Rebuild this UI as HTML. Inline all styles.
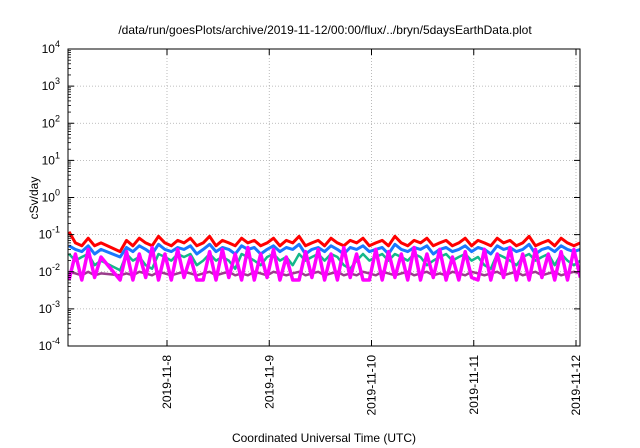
<!DOCTYPE html>
<html><head><meta charset="utf-8"><style>
html,body{margin:0;padding:0;background:#fff;}
svg{display:block;font-family:"Liberation Sans",sans-serif;}
</style></head><body>
<svg id="chart" width="640" height="448" viewBox="0 0 640 448">
<text x="325" y="34" font-size="12" text-anchor="middle">/data/run/goesPlots/archive/2019-11-12/00:00/flux/../bryn/5daysEarthData.plot</text>
<text transform="translate(38,198) rotate(-90)" font-size="12" text-anchor="middle">cSv/day</text>
<text x="324" y="442" font-size="12" text-anchor="middle">Coordinated Universal Time (UTC)</text>
<g id="grid"></g>
<defs><clipPath id="clip"><rect x="68" y="49" width="512" height="297"/></clipPath></defs>
<g id="series" clip-path="url(#clip)"></g>
<g id="axes"></g>
<rect x="68" y="49" width="512" height="297" fill="none" stroke="#000" stroke-width="1"/>
</svg>
<script>
const yExponents=[-4,-3,-2,-1,0,1,2,3,4];
const xTickLabels=["2019-11-8","2019-11-9","2019-11-10","2019-11-11","2019-11-12"];
const xTickHours=[24,48,72,96,120];
const times=[1,2.5,4,5.5,7,8.5,13,14.5,16,17.5,
19,20.5,22,23.5,25,26.5,28,29.5,31,32.5,
34,35.5,37,38.5,40,41.5,43,44.5,46,47.5,
49,50.5,52,53.5,55,56.5,58,59.5,61,62.5,
64,65.5,67,68.5,70,71.5,73,74.5,76,77.5,
79,80.5,82,83.5,85,86.5,88,89.5,91,92.5,
94,95.5,97,98.5,100,101.5,103,104.5,106,107.5,
109,110.5,112,113.5,115,116.5,118,119.5,121];
const red=[.12,.06,.05,.08,.05,.06,.035,.07,.05,.08,
.06,.05,.09,.06,.05,.07,.06,.08,.05,.06,
.09,.05,.07,.06,.05,.08,.06,.07,.05,.06,
.08,.05,.07,.06,.09,.05,.06,.07,.05,.08,
.06,.05,.07,.06,.08,.05,.06,.07,.05,.09,
.06,.05,.07,.06,.08,.05,.06,.07,.05,.06,
.08,.05,.07,.06,.05,.08,.06,.07,.05,.06,
.09,.05,.06,.07,.05,.08,.06,.05,.06];
const blue=[.05,.04,.035,.05,.03,.04,.025,.045,.035,.05,
.04,.03,.055,.04,.035,.045,.04,.05,.03,.04,
.055,.035,.045,.04,.03,.05,.04,.045,.03,.04,
.05,.035,.045,.04,.055,.03,.04,.045,.035,.05,
.04,.03,.045,.04,.05,.035,.04,.045,.03,.055,
.04,.035,.045,.04,.05,.03,.04,.045,.035,.04,
.05,.035,.045,.04,.03,.05,.04,.045,.035,.04,
.055,.03,.04,.045,.035,.05,.04,.035,.04];
const teal=[.03,.02,.025,.03,.015,.02,.011,.03,.02,.025,
.015,.012,.03,.025,.02,.03,.025,.03,.015,.02,
.03,.02,.025,.02,.012,.03,.025,.02,.015,.025,
.03,.02,.025,.015,.03,.02,.025,.03,.02,.03,
.025,.015,.012,.02,.03,.02,.025,.03,.02,.03,
.025,.02,.03,.025,.015,.02,.025,.03,.02,.025,
.03,.02,.025,.015,.012,.03,.025,.02,.015,.025,
.03,.02,.025,.03,.015,.03,.02,.015,.02];
const purple=[.01,.009,.008,.01,.008,.009,.008,.009,.008,.01,
.009,.008,.01,.009,.008,.009,.01,.009,.008,.009,
.01,.008,.009,.01,.008,.009,.008,.01,.009,.008,
.01,.009,.008,.009,.01,.008,.009,.01,.008,.009,
.01,.008,.009,.008,.01,.009,.008,.01,.009,.008,
.009,.01,.008,.009,.01,.008,.009,.008,.01,.009,
.008,.01,.009,.008,.009,.01,.008,.009,.01,.008,
.009,.01,.008,.009,.01,.008,.009,.01,.009];
const magenta=[.006,.03,.006,.04,.007,.025,.006,.035,.006,.03,
.007,.045,.006,.03,.006,.04,.007,.025,.006,.006,
.035,.006,.04,.007,.03,.006,.045,.006,.03,.007,
.04,.006,.025,.006,.006,.035,.007,.04,.006,.03,
.006,.045,.007,.03,.006,.006,.04,.006,.035,.007,
.03,.006,.045,.006,.03,.007,.04,.006,.025,.006,
.035,.007,.006,.04,.006,.03,.007,.045,.006,.03,
.006,.04,.007,.03,.006,.035,.006,.04,.007];
const seriesList=[["red",red,"#ff0000",3],["blue",blue,"#1a78ff",3],["teal",teal,"#14b88a",2.5],["purple",purple,"#9a3c8c",2.5],["magenta",magenta,"#ff00ff",3.5]];
const L=68,R=580,T=49,B=346;
const pxPerHour=(576-167)/96, x0=167-24*pxPerHour;
function xScale(h){return x0+h*pxPerHour;}
function yScale(v){return T+(4-Math.log10(v))*(B-T)/8;}
const NS="http://www.w3.org/2000/svg";
const grid=document.getElementById('grid'),axes=document.getElementById('axes'),ser=document.getElementById('series');
function mk(tag,attrs,parent){const e=document.createElementNS(NS,tag);for(const k in attrs)e.setAttribute(k,attrs[k]);parent.appendChild(e);return e;}
yExponents.forEach(function(p){
  const y=yScale(Math.pow(10,p));
  if(p>-4&&p<4){
    const g=mk('line',{x1:L,x2:R,y1:y,y2:y,stroke:'#aaa','stroke-width':0.8,'stroke-dasharray':'1,2'},grid);
    
    
  }
  const t=mk('line',{x1:L,x2:L+6,y1:y,y2:y,stroke:'#000'},axes);
  
  
  const t2=mk('line',{x1:R,x2:R-6,y1:y,y2:y,stroke:'#000'},axes);
  
  
  if(p<4){for(let m=2;m<10;m++){const ym=yScale(m*Math.pow(10,p));
    const mt=mk('line',{x1:L,x2:L+3,y1:ym,y2:ym,stroke:'#000','stroke-width':0.8},axes);
    
    }}
  const lab=mk('text',{x:L-8,y:y+4,'font-size':12,'text-anchor':'end'},axes);
  
  
  lab.textContent='10';
  const sup=mk('tspan',{dy:-6,'font-size':9},lab);
  sup.textContent=String(p);
});
xTickHours.forEach(function(h,i){
  const x=xScale(h);
  const g=mk('line',{x1:x,x2:x,y1:T,y2:B,stroke:'#aaa','stroke-width':0.8,'stroke-dasharray':'1,2'},grid);
  
  
  const t=mk('line',{x1:x,x2:x,y1:B,y2:B-6,stroke:'#000'},axes);
  
  
  const t2=mk('line',{x1:x,x2:x,y1:T,y2:T+6,stroke:'#000'},axes);
  
  
  const lab=mk('text',{transform:'translate('+(x+4)+','+(B+9)+') rotate(-90)','font-size':12,'text-anchor':'end'},axes);
  
  
  lab.textContent=xTickLabels[i];
});
seriesList.forEach(function(s){
  const pts=s[1].map(function(v,i){return xScale(times[i]).toFixed(1)+','+yScale(v).toFixed(1);}).join(' ');
  const pl=mk('polyline',{points:pts,fill:'none',stroke:s[2],'stroke-width':s[3],'stroke-linejoin':'round'},ser);
  
  
});
</script>
</body></html>
